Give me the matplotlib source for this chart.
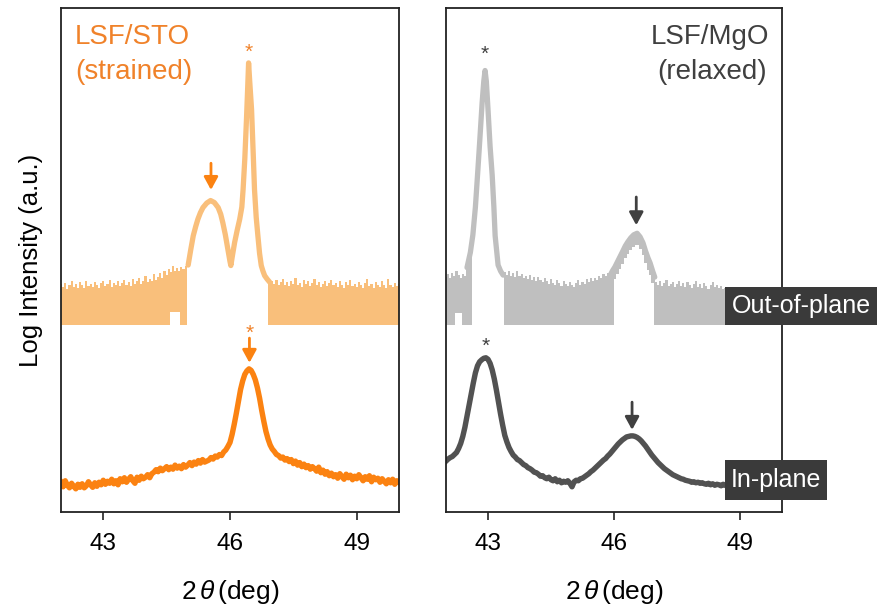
import numpy as np
import matplotlib
matplotlib.use("Agg")
import matplotlib.pyplot as plt
from matplotlib.patches import Rectangle

plt.rcParams['font.family'] = ['Liberation Sans', 'DejaVu Sans']
plt.rcParams['mathtext.fontset'] = 'custom'
plt.rcParams['mathtext.rm'] = 'Liberation Sans'
plt.rcParams['mathtext.it'] = 'Liberation Sans:italic'

# ---------------- data (2theta in deg, log intensity in arbitrary offset units) ----------------
FLOOR = 37.1  # detector floor of the out-of-plane scans

# LSF/STO out-of-plane: noisy background top edge, film + substrate peaks
sto_oop_bg_left = [45.2, 44.6, 45.5, 44.3, 45.0, 45.8, 44.7, 45.3, 44.4, 45.6,
                   45.1, 44.5, 45.9, 44.8, 45.3, 44.6, 45.7, 45.0, 44.4, 45.4,
                   45.8, 44.9, 45.2, 46.1, 44.7, 45.5, 45.0, 45.9, 44.8, 45.4,
                   46.0, 45.1, 45.6, 44.9, 46.2, 45.3, 45.8, 46.5, 45.2, 45.9,
                   46.8, 45.6, 46.3, 45.9, 47.2, 46.0, 46.6, 47.5, 46.4, 47.9,
                   47.0, 48.3, 47.6, 48.8, 47.8, 48.5, 47.9, 48.6, 48.2, 48.8]
sto_oop_peak_x = [45.01, 45.07, 45.13, 45.19, 45.24, 45.30, 45.36, 45.45, 45.54, 45.63,
                  45.72, 45.78, 45.83, 45.89, 45.95, 46.00, 46.02, 46.06, 46.11, 46.17,
                  46.23, 46.28, 46.31, 46.35, 46.39, 46.42, 46.44, 46.47, 46.51, 46.55,
                  46.58, 46.62, 46.66, 46.70, 46.74, 46.78, 46.82, 46.88, 46.94]
sto_oop_peak_y = [49.0, 52.0, 54.8, 56.7, 58.1, 59.4, 60.4, 61.3, 61.8, 61.4,
                  60.4, 59.1, 57.4, 55.0, 52.1, 49.7, 48.9, 51.0, 53.5, 55.9,
                  58.1, 60.5, 64.0, 70.0, 77.9, 84.5, 89.1, 85.0, 79.9, 71.0,
                  64.0, 58.5, 54.8, 51.3, 48.9, 47.8, 46.9, 46.2, 45.6]
sto_oop_bg_right = [45.8, 45.2, 46.1, 45.0, 45.7, 46.3, 45.1, 45.6, 44.8, 45.9,
                    45.3, 46.4, 45.0, 45.5, 44.7, 46.0, 45.2, 45.8, 44.9, 45.4,
                    46.2, 45.0, 45.6, 44.6, 45.3, 45.9, 44.8, 45.5, 46.1, 45.0,
                    45.4, 44.7, 45.8, 45.1, 44.5, 45.6, 45.0, 46.0, 44.8, 45.3,
                    44.6, 45.7, 45.1, 44.5, 45.4, 46.3, 44.9, 45.2, 44.4, 45.6,
                    45.0, 44.6, 45.8, 45.1, 44.5, 46.2, 45.0, 44.7, 45.5, 44.9, 45.3]
sto_oop_notches = [(44.60, 44.80, 39.6)]

# LSF/STO in-plane, sampled every 0.05 deg from 42 to 50
sto_ip_y = [5.9, 5.0, 6.2, 5.3, 4.8, 5.7, 5.1, 4.6, 5.5, 4.9,
            5.6, 4.8, 5.2, 6.0, 5.4, 4.9, 5.8, 5.1, 5.9, 5.4,
            6.3, 5.5, 6.1, 5.7, 6.5, 5.6, 6.2, 5.4, 6.6, 6.0,
            6.8, 5.9, 6.5, 7.0, 6.2, 5.7, 6.9, 6.3, 7.1, 6.6,
            6.9, 7.4, 6.8, 7.6, 7.9, 8.4, 8.0, 8.7, 8.2, 8.6,
            9.0, 8.4, 8.9, 8.5, 9.3, 8.7, 9.1, 8.6, 9.4, 8.9,
            9.3, 9.8, 9.2, 9.9, 9.5, 10.2, 9.7, 10.4, 9.9, 10.1,
            10.3, 10.8, 10.5, 11.1, 10.9, 11.4, 11.2, 11.9, 12.3, 13.0,
            13.8, 15.4, 17.4, 19.6, 22.0, 24.3, 26.0, 27.3, 28.0, 28.4,
            28.1, 27.3, 26.2, 24.6, 22.6, 20.2, 18.0, 16.0, 14.5, 13.3,
            12.5, 12.0, 11.4, 11.2, 10.7, 10.9, 10.3, 10.6, 10.0, 10.4,
            9.6, 10.1, 9.3, 9.8, 9.0, 9.5, 8.8, 9.2, 8.5, 9.0,
            8.6, 8.1, 8.9, 7.8, 8.3, 7.5, 8.0, 7.2, 7.7, 7.0,
            7.4, 6.7, 7.6, 7.0, 6.5, 7.5, 6.8, 7.3, 6.4, 7.1,
            6.6, 7.4, 6.8, 6.2, 7.0, 6.5, 7.2, 6.0, 6.9, 6.4,
            6.7, 5.9, 6.6, 6.1, 5.6, 6.4, 5.8, 6.5, 5.5, 6.2,
            5.9]

# LSF/MgO out-of-plane
mgo_oop_bg_a = [46.6, 47.2, 46.4, 47.5, 46.9, 47.8, 47.1, 46.5, 47.3, 46.8]
mgo_oop_peak1_x = [42.50, 42.58, 42.64, 42.70, 42.76, 42.81, 42.86, 42.90, 42.93, 42.96,
                   43.00, 43.05, 43.10, 43.14, 43.17, 43.21, 43.24, 43.30, 43.36]
mgo_oop_peak1_y = [48.5, 51.5, 55.0, 60.5, 68.0, 74.5, 81.2, 85.5, 87.6, 85.5,
                   79.9, 72.5, 66.8, 60.5, 54.8, 51.5, 49.0, 47.8, 47.0]
mgo_oop_bg_b = [47.6, 47.0, 47.8, 46.9, 47.4, 46.6, 47.9, 46.8, 47.2, 46.5,
                46.9, 46.2, 47.1, 46.0, 46.6, 45.8, 46.7, 46.1, 45.6, 46.4,
                45.9, 45.3, 46.3, 45.5, 45.0, 46.0, 45.4, 44.9, 45.8, 45.2,
                44.8, 45.6, 45.1, 44.7, 45.5, 46.0, 45.0, 45.7, 45.3, 46.2,
                45.6, 46.4, 45.8, 46.5, 46.0, 46.9, 46.4, 47.2, 46.8, 47.5]
mgo_oop_peak2_x = [45.90, 45.96, 46.02, 46.08, 46.14, 46.20, 46.27, 46.33, 46.40,
                   46.47, 46.55, 46.62, 46.69, 46.75, 46.81, 46.86, 46.92, 46.97]
mgo_oop_peak2_y = [46.8, 47.8, 48.6, 49.6, 50.6, 51.6, 52.8, 53.6, 54.4,
                   55.0, 55.3, 54.6, 53.4, 51.8, 50.4, 49.4, 47.8, 46.6]
mgo_oop_bg_c = [45.6, 45.0, 45.8, 44.9, 45.4, 46.0, 44.8, 45.3, 45.7, 44.7,
                45.2, 45.9, 44.8, 45.4, 44.6, 45.6, 45.1, 44.5, 45.3, 45.8,
                44.7, 45.2, 44.4, 45.5, 44.9, 44.3, 45.0, 45.6, 44.6, 45.1,
                44.5, 44.9, 44.2, 44.4, 44.0, 44.3, 43.9, 44.4, 44.1, 43.8,
                44.2, 43.9, 44.3, 44.0, 43.7, 44.2, 43.9, 44.1, 43.6, 44.0,
                43.8, 44.2, 43.9, 43.6, 44.1, 43.8, 44.2, 43.7, 44.0, 43.9, 44.1]
mgo_oop_notches = [(42.25, 42.35, 39.5)]

# LSF/MgO in-plane, sampled every 0.05 deg from 42 to 50
mgo_ip_y = [10.1, 10.5, 10.8, 11.0, 11.4, 11.8, 12.6, 13.6, 15.0, 16.8,
            19.0, 21.2, 23.4, 25.6, 27.6, 29.0, 29.8, 30.2, 30.5, 30.6,
            30.3, 29.5, 28.2, 26.4, 24.2, 21.8, 19.4, 17.2, 15.2, 13.9,
            12.8, 12.0, 11.3, 10.9, 10.4, 10.2, 9.8, 9.4, 9.2, 8.8,
            8.6, 8.3, 7.9, 7.8, 7.5, 7.1, 7.2, 6.8, 6.6, 6.9,
            6.4, 6.2, 6.6, 6.0, 6.3, 5.8, 6.1, 5.9, 6.2, 5.7,
            5.0, 6.0, 6.3, 6.2, 6.6, 6.7, 7.0, 7.3, 7.6, 8.0,
            8.3, 8.7, 9.1, 9.5, 9.9, 10.3, 10.6, 11.1, 11.5, 12.0,
            12.5, 13.0, 13.5, 13.9, 14.3, 14.6, 14.9, 15.0, 15.1, 15.1,
            15.0, 14.8, 14.5, 14.1, 13.6, 13.1, 12.5, 11.9, 11.3, 10.8,
            10.3, 9.8, 9.4, 9.0, 8.6, 8.3, 8.0, 7.7, 7.4, 7.2,
            7.0, 6.8, 6.6, 6.5, 6.3, 6.2, 6.1, 5.9, 6.0, 5.8,
            5.9, 5.7, 5.8, 5.6, 5.5, 5.7, 5.4, 5.6, 5.3, 5.5,
            5.4, 5.2, 5.5, 5.3, 5.1, 5.4, 5.2, 5.3, 5.0, 5.2,
            5.3, 5.1, 5.2, 5.0, 5.3, 5.1, 4.9, 5.2, 5.0, 5.1,
            5.0, 5.2, 4.9, 5.1, 5.0, 4.8, 5.1, 4.9, 5.0, 4.8,
            5.0]

# peak markers: (2theta, y) for substrate stars and film arrows (x, tip, tail)
sto_oop_star = (46.44, 91.2)
sto_oop_arrow = (45.55, 63.9, 69.2)
sto_ip_star = (46.46, 35.5)
sto_ip_arrow = (46.46, 29.6, 34.5)
mgo_oop_star = (42.93, 90.9)
mgo_oop_arrow = (46.53, 56.9, 62.5)
mgo_ip_star = (42.95, 32.9)
mgo_ip_arrow = (46.43, 16.3, 21.8)

xticks = [43, 46, 49]

# ---------------- colours ----------------
c_sto_oop = '#F9BF7B'
c_sto_ip = '#FB8211'
c_sto_text = '#F0822A'
c_mgo_oop = '#BFBFBF'
c_mgo_ip = '#525252'
c_mgo_text = '#404040'
c_box = '#3A3A3A'


def grid(start, stop, n):
    return np.round(np.linspace(start, stop, n), 3)


def apply_notches(x, base, notches):
    for x0, x1, level in notches:
        base[(x >= x0) & (x <= x1)] = level
    return base


# assemble LSF/STO out-of-plane band
sx_l = grid(42.0, 44.95, len(sto_oop_bg_left))
sx_r = grid(47.0, 50.0, len(sto_oop_bg_right))
sto_x = np.concatenate([sx_l, sto_oop_peak_x, sx_r])
sto_top = np.concatenate([sto_oop_bg_left, sto_oop_peak_y, sto_oop_bg_right])
sto_base = np.concatenate([np.full(len(sx_l), FLOOR), np.array(sto_oop_peak_y),
                           np.full(len(sx_r), FLOOR)])
sto_base[(sto_x >= 46.9) & (sto_x < 47.0)] = FLOOR
sto_base = apply_notches(sto_x, sto_base, sto_oop_notches)

# assemble LSF/MgO out-of-plane band
mx_a = grid(42.0, 42.45, len(mgo_oop_bg_a))
mx_b = grid(43.40, 45.85, len(mgo_oop_bg_b))
mx_c = grid(47.0, 50.0, len(mgo_oop_bg_c))
p1 = np.array(mgo_oop_peak1_y)
p1_base = np.where(np.array(mgo_oop_peak1_x) <= 42.58, FLOOR, p1)
p2 = np.array(mgo_oop_peak2_y)
p2x = np.array(mgo_oop_peak2_x)
p2_base = np.where((p2x < 46.0) | (p2x > 46.95), FLOOR, p2 - 2.4)
mgo_x = np.concatenate([mx_a, mgo_oop_peak1_x, mx_b, mgo_oop_peak2_x, mx_c])
mgo_top = np.concatenate([mgo_oop_bg_a, p1, mgo_oop_bg_b, p2, mgo_oop_bg_c])
mgo_base = np.concatenate([np.full(len(mx_a), FLOOR), p1_base, np.full(len(mx_b), FLOOR),
                           p2_base, np.full(len(mx_c), FLOOR)])
mgo_base = apply_notches(mgo_x, mgo_base, mgo_oop_notches)

ip_x = grid(42.0, 50.0, len(sto_ip_y))

# ---------------- figure ----------------
fig = plt.figure(figsize=(8.78, 6.09), dpi=100)
W, H = 878, 609
ax_l = fig.add_axes([61 / W, (H - 512) / H, 338 / W, 504 / H])
ax_r = fig.add_axes([446 / W, (H - 512) / H, 336 / W, 504 / H])

LW_OOP = 3.8
LW_IP = 3.9


def draw_band(ax, x, base, top, peaks, color):
    # stepped fill gives the spiky counting-noise look; peaks are traced as thick lines
    ax.fill_between(x, base, top, step='mid', color=color, lw=0)
    for px, py in peaks:
        ax.plot(px, py, color=color, lw=LW_OOP, solid_joinstyle='round',
                solid_capstyle='round')


draw_band(ax_l, sto_x, sto_base, sto_top, [(sto_oop_peak_x, sto_oop_peak_y)], c_sto_oop)
ax_l.plot(ip_x, sto_ip_y, color=c_sto_ip, lw=LW_IP, solid_joinstyle='round')

draw_band(ax_r, mgo_x, mgo_base, mgo_top,
          [(mgo_oop_peak1_x, mgo_oop_peak1_y), (mgo_oop_peak2_x, mgo_oop_peak2_y)], c_mgo_oop)
ax_r.plot(ip_x, mgo_ip_y, color=c_mgo_ip, lw=LW_IP, solid_joinstyle='round')


def star(ax, pos, color):
    ax.text(pos[0], pos[1], '*', color=color, fontsize=15, ha='center', va='center')


def arrow(ax, spec, color):
    x, tip, tail = spec
    ax.annotate('', xy=(x, tip), xytext=(x, tail),
                arrowprops=dict(arrowstyle='-|>,head_length=0.55,head_width=0.3',
                                color=color, lw=2, shrinkA=0, shrinkB=0,
                                mutation_scale=14))


star(ax_l, sto_oop_star, c_sto_text)
star(ax_l, sto_ip_star, c_sto_text)
arrow(ax_l, sto_oop_arrow, c_sto_ip)
arrow(ax_l, sto_ip_arrow, c_sto_ip)
star(ax_r, mgo_oop_star, c_mgo_text)
star(ax_r, mgo_ip_star, c_mgo_text)
arrow(ax_r, mgo_oop_arrow, c_mgo_text)
arrow(ax_r, mgo_ip_arrow, c_mgo_text)

TITLE_FS = 20
ax_l.text(42.33, 94.2, 'LSF/STO', color=c_sto_text, fontsize=TITLE_FS, ha='left', va='center')
ax_l.text(42.33, 87.3, '(strained)', color=c_sto_text, fontsize=TITLE_FS, ha='left', va='center')
ax_r.text(49.69, 94.2, 'LSF/MgO', color=c_mgo_text, fontsize=TITLE_FS, ha='right', va='center')
ax_r.text(49.64, 87.3, '(relaxed)', color=c_mgo_text, fontsize=TITLE_FS, ha='right', va='center')

for ax in (ax_l, ax_r):
    ax.set_xlim(42, 50)
    ax.set_ylim(0, 100)
    ax.set_xticks(xticks)
    ax.set_xticklabels([str(t) for t in xticks])
    ax.tick_params(axis='x', direction='out', length=6, width=1.2, labelsize=17.5,
                   pad=9, colors='#222222', labelcolor='black')
    ax.tick_params(axis='y', left=False, labelleft=False)
    for s in ax.spines.values():
        s.set_linewidth(1.3)
        s.set_color('#222222')
    ax.set_xlabel(r'2$\,\theta\,$(deg)', fontsize=19, labelpad=17)

ax_l.set_ylabel('Log Intensity (a.u.)', fontsize=18.5, labelpad=13)

# scan-direction tags at the right edge
tags = [('Out-of-plane', 725, 287, 877, 325), ('In-plane', 725, 460, 827, 500)]
for label, x0, y0, x1, y1 in tags:
    fig.patches.append(Rectangle((x0 / W, (H - y1) / H), (x1 - x0) / W, (y1 - y0) / H,
                                 transform=fig.transFigure, facecolor=c_box,
                                 edgecolor='none', zorder=5))
    fig.text((x0 + x1) / 2 / W, (H - (y0 + y1) / 2) / H, label, color='white',
             fontsize=18, ha='center', va='center', zorder=6)

fig.savefig('out.png', dpi=100)
